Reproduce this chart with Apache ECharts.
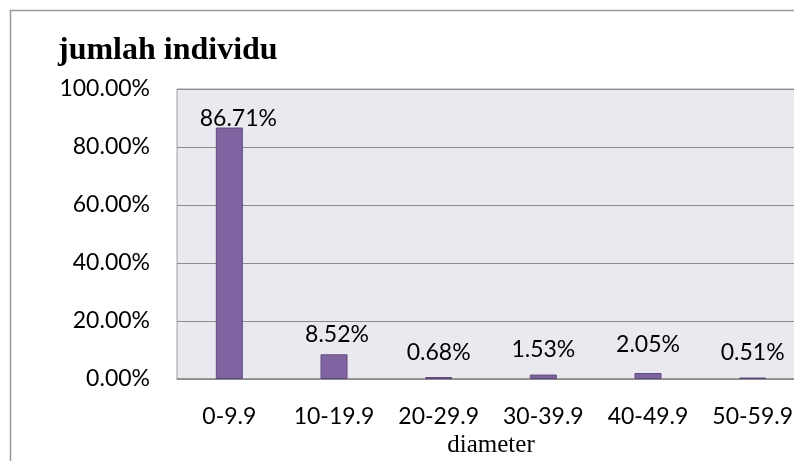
<!DOCTYPE html>
<html>
<head>
<meta charset="utf-8">
<script src="https://cdn.jsdelivr.net/npm/echarts@6/dist/echarts.min.js"></script>
<style>
  html, body { margin: 0; padding: 0; background: #ffffff; }
  #chart { width: 794px; height: 461px; }
</style>
</head>
<body>
<div id="chart"></div>
<script>
// Share of individuals per diameter class
const categories = ['0-9.9', '10-19.9', '20-29.9', '30-39.9', '40-49.9', '50-59.9'];
const shares = [0.8671, 0.0852, 0.0068, 0.0153, 0.0205, 0.0051];
const yTicks = { min: 0, max: 1, step: 0.2 };

// per-bar nudges for the value labels [dx, dy]
const labelNudge = [[9, 3], [3, -8], [0, -13], [0, -13], [0, -17], [0, -13]];

const chart = echarts.init(document.getElementById('chart'), null, { renderer: 'canvas' });

const pct = v => (v * 100).toFixed(2) + '%';

chart.setOption({
  animation: false,
  backgroundColor: '#ffffff',
  title: {
    text: 'jumlah individu',
    left: 58,
    top: 35,
    padding: 0,
    textStyle: {
      fontFamily: '"Liberation Serif", "DejaVu Serif", serif',
      fontWeight: 'bold',
      fontSize: 32,
      color: '#000000'
    }
  },
  graphic: [{
    type: 'rect',
    shape: { x: 10.5, y: 10.5, width: 800, height: 470 },
    style: { fill: null, stroke: '#999999', lineWidth: 1.5 },
    silent: true,
    z: 100
  }],
  grid: {
    left: 177,
    top: 89,
    width: 628,
    height: 290,
    outerBoundsMode: 'none',
    containLabel: false,
    show: true,
    backgroundColor: '#ebe9f0',
    borderColor: '#a0a0a0',
    borderWidth: 1
  },
  xAxis: {
    type: 'category',
    data: categories,
    name: 'diameter',
    nameLocation: 'middle',
    nameGap: 54,
    nameTextStyle: {
      fontFamily: '"Liberation Serif", "DejaVu Serif", serif',
      fontSize: 25,
      color: '#000000'
    },
    axisLine: { show: true, lineStyle: { color: '#8a8a8a', width: 1.5 } },
    axisTick: { show: false },
    axisLabel: {
      interval: 0,
      hideOverlap: false,
      margin: 26,
      fontFamily: 'Lato, "Open Sans", sans-serif',
      fontSize: 23,
      color: '#000000'
    },
    splitLine: { show: false }
  },
  yAxis: {
    type: 'value',
    min: yTicks.min,
    max: yTicks.max,
    interval: yTicks.step,
    axisLine: { show: false },
    axisTick: { show: false },
    axisLabel: {
      margin: 27,
      formatter: v => pct(v),
      fontFamily: 'Lato, "Open Sans", sans-serif',
      fontSize: 23,
      color: '#000000'
    },
    splitLine: { show: true, lineStyle: { color: '#8c8c8c', width: 1 } }
  },
  series: [{
    type: 'bar',
    data: shares.map((v, i) => ({
      value: v,
      label: { offset: labelNudge[i] }
    })),
    barWidth: 27,
    itemStyle: {
      color: '#8064a2',
      borderColor: '#5e4a7a',
      borderWidth: 1
    },
    label: {
      show: true,
      position: 'top',
      distance: 0,
      formatter: p => pct(p.value),
      fontFamily: 'Lato, "Open Sans", sans-serif',
      fontSize: 23,
      color: '#000000'
    }
  }]
});
</script>
</body>
</html>
